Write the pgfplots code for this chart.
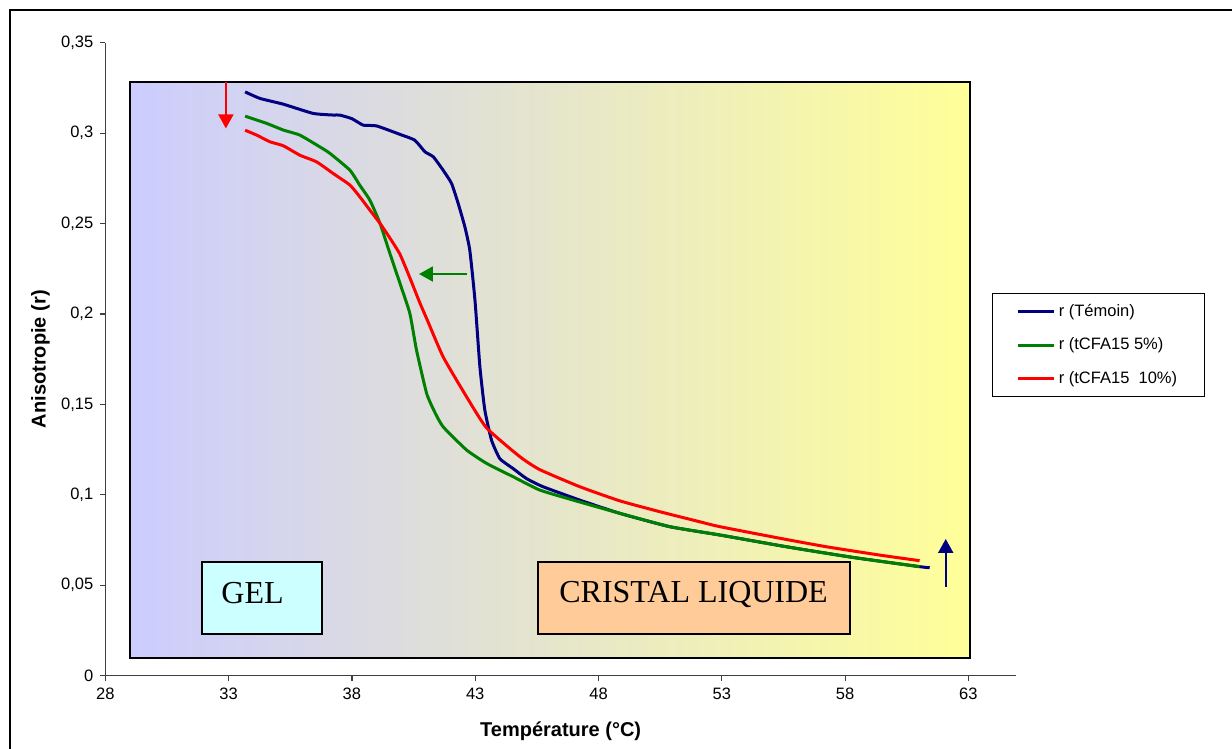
\documentclass[border=0pt]{standalone}
\usepackage{pgfplots}
\pgfplotsset{compat=1.18}
\usepackage{fontspec}
\setmainfont{Liberation Sans}
\newfontfamily\seriffont{Liberation Serif}
\usetikzlibrary{arrows.meta}
\definecolor{cnavy}{HTML}{000080}
\definecolor{cgreen}{HTML}{008000}
\definecolor{cred}{HTML}{FF0000}
\definecolor{bgleft}{HTML}{CCCCFF}
\definecolor{bgright}{HTML}{FFFF99}
\definecolor{gelfill}{HTML}{CCFFFF}
\definecolor{clfill}{HTML}{FFCC99}
\pgfplotstableread{
x y
33.67 0.3228
34.27 0.3192
35.22 0.3160
36.43 0.3109
37.24 0.3100
37.50 0.3100
38.00 0.3080
38.46 0.3044
39.00 0.3040
39.95 0.2993
40.55 0.2961
40.96 0.2897
41.30 0.2869
41.70 0.2795
42.04 0.2722
42.31 0.2611
42.58 0.2482
42.78 0.2353
42.99 0.2077
43.19 0.1708
43.39 0.1469
43.66 0.1303
44.00 0.1200
44.54 0.1145
45.08 0.1090
45.75 0.1045
47.24 0.0971
48.86 0.0898
50.89 0.0824
52.92 0.0778
55.62 0.0713
58.32 0.0654
61.02 0.0603
61.43 0.0597
}\temoin
\pgfplotstableread{
x y
33.67 0.3094
34.54 0.3054
35.22 0.3017
35.89 0.2989
36.70 0.2924
37.11 0.2888
37.92 0.2795
38.32 0.2712
38.73 0.2629
39.14 0.2501
39.54 0.2335
39.95 0.2169
40.35 0.2003
40.62 0.1800
41.03 0.1561
41.35 0.1460
41.70 0.1376
42.65 0.1248
43.46 0.1174
44.54 0.1100
45.61 0.1027
46.97 0.0971
48.86 0.0898
50.89 0.0824
52.92 0.0778
55.62 0.0713
58.32 0.0654
61.02 0.0603
}\cinq
\pgfplotstableread{
x y
33.67 0.3016
34.14 0.2989
34.68 0.2952
35.22 0.2930
35.89 0.2878
36.57 0.2841
37.24 0.2777
37.92 0.2713
38.32 0.2648
38.73 0.2574
39.14 0.2501
39.54 0.2420
39.95 0.2330
40.35 0.2200
40.76 0.2060
41.03 0.1975
41.70 0.1763
42.65 0.1542
43.46 0.1370
44.81 0.1211
45.61 0.1140
47.24 0.1045
48.86 0.0967
50.48 0.0907
52.11 0.0851
52.92 0.0824
55.35 0.0760
57.24 0.0713
59.40 0.0667
61.02 0.0636
}\dix
\begin{document}
\begin{tikzpicture}
\begin{scope}[x=0.5pt,y=-0.5pt]
\useasboundingbox (0,0) rectangle (1232,749);
\draw[line width=1pt] (9.7,749) -- (9.7,10) -- (1232,10);
\end{scope}
\begin{axis}[
 at={(52.65pt,-337.85pt)}, anchor=south west,
 scale only axis, width=455.35pt, height=316.5pt,
 xmin=28, xmax=64.93, ymin=0, ymax=0.35,
 axis x line*=bottom, axis y line*=left,
 axis line style={-, black!75, line width=0.6pt},
 tick align=outside, major tick length=2.5pt,
 tick style={black!75, line width=0.6pt},
 xtick={28,33,38,43,48,53,58,63},
 ytick={0,0.05,0.1,0.15,0.2,0.25,0.3,0.35},
 yticklabels={0,{0,05},{0,1},{0,15},{0,2},{0,25},{0,3},{0,35}},
 scaled y ticks=false,
 /pgf/number format/assume math mode=true,
 ticklabel style={font=\fontsize{8.25}{10}\selectfont},
 xlabel={Température (°C)}, ylabel={Anisotropie (r)},
 label style={font=\bfseries\fontsize{10}{12}\selectfont},
 xlabel style={at={(axis description cs:0.5,-0.0968)}, anchor=base},
 ylabel style={at={(axis description cs:-0.0712,0.5)}, anchor=center},
 legend style={at={(0.974,0.6041)}, anchor=north west, draw=black, line width=0.5pt,
   fill=white, font=\fontsize{8.25}{10}\selectfont, inner xsep=12pt, inner ysep=3.7pt,
   row sep=6.3pt, nodes={inner sep=1.5pt}},
 legend cell align=left,
 legend image code/.code={\draw[#1] (0pt,0pt) -- (18pt,0pt);},
]
\fill[left color=bgleft, right color=bgright] (axis cs:29,0.0096) rectangle (axis cs:63.05,0.3284);
\draw[black, line width=1pt] (axis cs:29,0.0096) rectangle (axis cs:63.05,0.3284);
\draw[black, line width=1pt, fill=gelfill] (axis cs:31.91,0.0229) rectangle (axis cs:36.80,0.0630);
\draw[black, line width=1pt, fill=clfill] (axis cs:45.53,0.0229) rectangle (axis cs:58.19,0.0630);
\node[anchor=base, font=\seriffont\fontsize{16}{19}\selectfont] at (axis cs:33.97,0.0400) {GEL};
\node[anchor=base, font=\seriffont\fontsize{16}{19}\selectfont] at (axis cs:51.855,0.04035) {CRISTAL LIQUIDE};
\addplot[cnavy, line width=1.5pt, smooth, tension=0.3] table {\temoin};
\addlegendentry{r (Témoin)}
\addplot[cgreen, line width=1.5pt, smooth, tension=0.3] table {\cinq};
\addlegendentry{r (tCFA15 5\%)}
\addplot[cred, line width=1.5pt, smooth, tension=0.3] table {\dix};
\addlegendentry{r (tCFA15\ \ 10\%)}
\draw[cred, line width=1pt, -{Triangle[width=7.5pt,length=7pt]}] (axis cs:32.89,0.3284) -- (axis cs:32.89,0.3026);
\draw[cgreen, line width=1pt, -{Triangle[width=7.5pt,length=7pt]}] (axis cs:42.65,0.2221) -- (axis cs:40.72,0.2221);
\draw[cnavy, line width=1pt, -{Triangle[width=7.5pt,length=7pt]}] (axis cs:62.08,0.0492) -- (axis cs:62.08,0.0756);
\end{axis}
\end{tikzpicture}
\end{document}
